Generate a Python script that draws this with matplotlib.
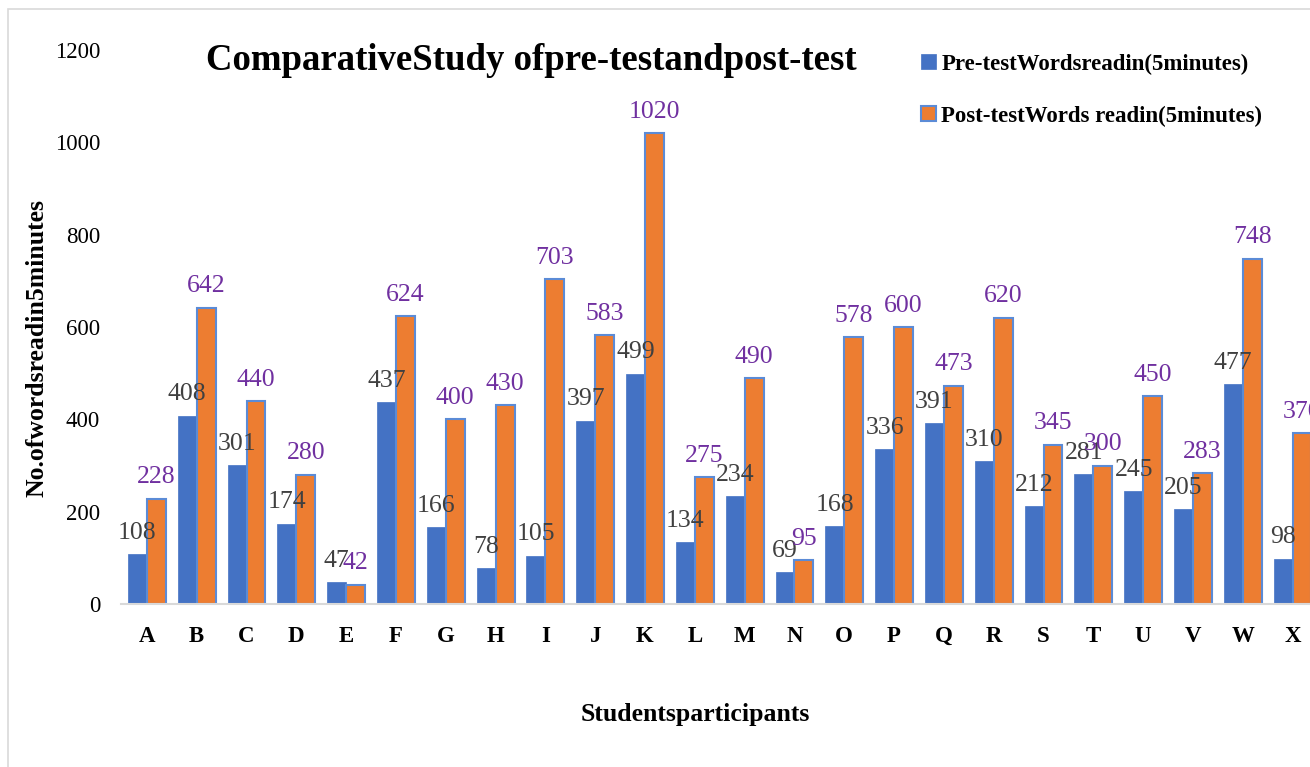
import numpy as np
import matplotlib
matplotlib.use("Agg")
import matplotlib.pyplot as plt
from matplotlib.patches import Rectangle

plt.rcParams['font.family'] = ['Liberation Serif', 'DejaVu Serif']

# datos
students = ['A', 'B', 'C', 'D', 'E', 'F', 'G', 'H', 'I', 'J', 'K', 'L',
            'M', 'N', 'O', 'P', 'Q', 'R', 'S', 'T', 'U', 'V', 'W', 'X']
pre_test = [108, 408, 301, 174, 47, 437, 166, 78, 105, 397, 499, 134,
            234, 69, 168, 336, 391, 310, 212, 281, 245, 205, 477, 98]
post_test = [228, 642, 440, 280, 42, 624, 400, 430, 703, 583, 1020, 275,
             490, 95, 578, 600, 473, 620, 345, 300, 450, 283, 748, 370]

blue = '#4472C4'
orange = '#ED7D31'

fig = plt.figure(figsize=(13.1, 7.67), dpi=100)
ax = fig.add_axes([121 / 1310, 1 - 604 / 767, 1 - 121 / 1310, (604 - 50) / 767])

x = np.arange(len(students))
w = 0.38
b1 = ax.bar(x - w / 2, pre_test, w, color=blue, edgecolor=blue, linewidth=0.5,
            label='Pre-testWordsreadin(5minutes)')
b2 = ax.bar(x + w / 2, post_test, w, color=orange, edgecolor='#5B8BD6', linewidth=1.5,
            label='Post-testWords readin(5minutes)')

for xi, v in zip(x, pre_test):
    ax.annotate(str(v), (xi - w / 2, v), xytext=(0, 11), textcoords='offset points',
                ha='center', va='baseline', fontsize=18.5, color='#404040', annotation_clip=False)
for xi, v in zip(x, post_test):
    ax.annotate(str(v), (xi + w / 2, v), xytext=(0, 11), textcoords='offset points',
                ha='center', va='baseline', fontsize=18.5, color='#7030A0', annotation_clip=False)

ax.set_xlim(-0.52, 23.35)
ax.set_ylim(0, 1200)
ax.set_yticks(range(0, 1201, 200))
ax.set_xticks(x)
ax.set_xticklabels(students, fontweight='bold', fontsize=16.5)
ax.tick_params(axis='y', labelsize=16.5, length=0, pad=15)
ax.tick_params(axis='x', length=0, pad=16)
for s in ['top', 'right', 'left']:
    ax.spines[s].set_visible(False)
ax.spines['bottom'].set_color('#D9D9D9')
ax.spines['bottom'].set_linewidth(1.5)

fig.text(531 / 1310, 1 - 60 / 767, 'ComparativeStudy ofpre-testandpost-test',
         ha='center', va='center', fontsize=26.5, fontweight='bold')
fig.text(37 / 1310, 1 - 348 / 767, 'No.ofwordsreadin5minutes', rotation=90,
         ha='center', va='center', fontsize=18.5, fontweight='bold')
fig.text(695 / 1310, 1 - 714 / 767, 'Studentsparticipants',
         ha='center', va='center', fontsize=18.5, fontweight='bold')

fig.legend(handles=[b1, b2], loc='upper left', bbox_to_anchor=(900 / 1310, 1 - 33 / 767),
           frameon=False, prop={'weight': 'bold', 'size': 16.5},
           handlelength=0.65, handleheight=0.65, handletextpad=0.25, labelspacing=1.35)

# marco gris del grafico
fig.patches.append(Rectangle((8 / 1310, -0.1), 1.2, 1.1 - 9 / 767, transform=fig.transFigure,
                             fill=False, edgecolor='#D9D9D9', linewidth=1.2))

fig.savefig('out.png', dpi=100)
